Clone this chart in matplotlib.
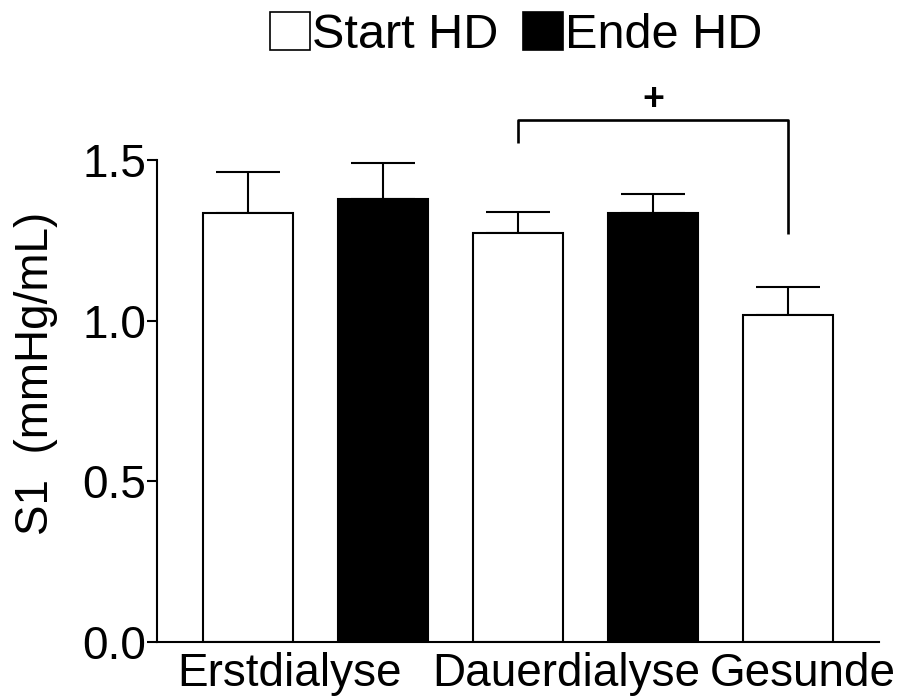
import matplotlib
matplotlib.use("Agg")
import matplotlib.pyplot as plt
from matplotlib.patches import Patch

plt.rcParams["font.family"] = ["Liberation Sans", "DejaVu Sans"]

# bar data
bar_labels = ["Erstdialyse Start", "Erstdialyse Ende", "Dauerdialyse Start",
              "Dauerdialyse Ende", "Gesunde"]
bar_values = [1.336, 1.379, 1.272, 1.334, 1.019]
bar_err_top = [1.464, 1.491, 1.338, 1.395, 1.105]
bar_colors = ["white", "black", "white", "black", "white"]

group_names = ["Erstdialyse", "Dauerdialyse", "Gesunde"]
group_pos = [0.31, 2.36, 4.11]

y_ticks = [0.0, 0.5, 1.0, 1.5]

# significance bracket between Dauerdialyse Start and Gesunde
bracket_left, bracket_right = 2, 4
bracket_y = 1.624
bracket_left_end = 1.552
bracket_right_end = 1.269
bracket_mark = "+"

fs = 33

fig = plt.figure(figsize=(9.03, 6.97), dpi=100)
ax = fig.add_axes([157 / 903, 1 - 642 / 697, (879 - 157) / 903, (642 - 79.7) / 697])

xs = list(range(len(bar_values)))
errs = [t - v for t, v in zip(bar_err_top, bar_values)]
ax.bar(xs, bar_values, width=0.667, color=bar_colors, edgecolor="black",
       linewidth=1.5, zorder=2)
ax.errorbar(xs, bar_values, yerr=[[0] * len(errs), errs], fmt="none",
            ecolor="black", elinewidth=1.5, capsize=23, capthick=1.5, zorder=1)

ax.plot([bracket_left, bracket_left, bracket_right, bracket_right],
        [bracket_left_end, bracket_y, bracket_y, bracket_right_end],
        color="black", lw=1.9, solid_capstyle="butt", clip_on=False)
ax.text((bracket_left + bracket_right) / 2, 1.687, bracket_mark,
        ha="center", va="center", fontsize=27, fontweight="bold")

ax.set_xlim(-0.674, 4.674)
ax.set_ylim(0, 1.75)
ax.set_yticks(y_ticks)
ax.set_yticklabels([f"{t:.1f}" for t in y_ticks])
ax.set_xticks(group_pos)
ax.set_xticklabels(group_names)

for side in ["top", "right"]:
    ax.spines[side].set_visible(False)
ax.spines["left"].set_bounds(0, 1.5)
ax.spines["left"].set_linewidth(1.5)
ax.spines["bottom"].set_linewidth(1.5)
ax.tick_params(axis="y", length=7, width=1.5, labelsize=fs, pad=1)
ax.tick_params(axis="x", length=0, labelsize=fs, pad=7)
ax.set_ylabel("S1  (mmHg/mL)", fontsize=fs)
ax.yaxis.set_label_coords(-0.137, 0.478)

handles = [Patch(facecolor="white", edgecolor="black", lw=1.2, label="Start HD"),
           Patch(facecolor="black", edgecolor="black", lw=1.2, label="Ende HD")]
fig.legend(handles=handles, loc="center", bbox_to_anchor=(0.572, 0.950), ncol=2,
           frameon=False, fontsize=35, handlelength=0.82, handleheight=0.82,
           handletextpad=0.05, columnspacing=0.5, borderpad=0)

fig.savefig("out.png", dpi=100)
